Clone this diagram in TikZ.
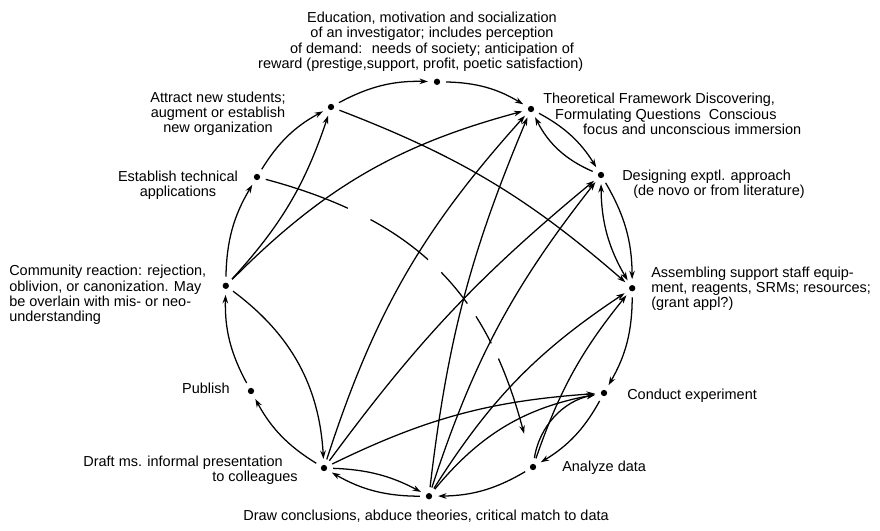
\documentclass[tikz,border=0pt]{standalone}
\usepackage{fontspec}
\setmainfont{Liberation Sans}
\usetikzlibrary{arrows.meta}

\begin{document}
\begin{tikzpicture}[
        >={Stealth[length=6pt,width=4pt]},
        dot/.style={circle,fill,inner sep=0pt,minimum size=4.5pt},
        lbl/.style={inner sep=0pt,font=\fontsize{10.3}{10.8}\selectfont},
        link/.style={->,line width=0.9pt,shorten >=4pt,shorten <=4pt}]
        \useasboundingbox (-10.725,-6.025) rectangle (11.275,7.225);
        % the twelve stations, clockwise from the top
        \node[dot](edu) at (0.2,5.18) {};
        \node[dot](the) at (2.55,4.5) {};
        \node[dot](des) at (4.3,2.85) {};
        \node[dot](asm) at (5.08,0.02) {};
        \node[dot](con) at (4.375,-2.6) {};
        \node[dot](ana) at (2.6,-4.45) {};
        \node[dot](drw) at (0,-5.18) {};
        \node[dot](dft) at (-2.625,-4.475) {};
        \node[dot](pub) at (-4.45,-2.55) {};
        \node[dot](com) at (-5.08,0.08) {};
        \node[dot](est) at (-4.3,2.8) {};
        \node[dot](att) at (-2.45,4.55) {};
        % texts
        \node[lbl,align=center](edutxt) at (0.075,6.18) {Education, motivation and socialization\\of an investigator; includes perception\\of demand:~ needs of society; anticipation of\\reward (prestige,support, profit, poetic satisfaction)\hspace*{16pt}};
        \node[lbl,align=left,anchor=west](thetxt) at (2.85,4.375) {Theoretical Framework Discovering,\\\hspace*{8.5pt}Formulating Questions~ Conscious\\\hspace*{28.4pt}focus and unconscious immersion};
        \node[lbl,align=left,anchor=west](destxt) at (4.825,2.61) {Designing exptl. approach\\\hspace*{7.8pt}(de novo or from literature)};
        \node[lbl,align=left,anchor=west](asmtxt) at (5.55,0.01) {Assembling support staff equip-\\ment, reagents, SRMs; resources;\\(grant appl?)};
        \node[lbl,anchor=west](contxt) at (4.95,-2.675) {Conduct experiment};
        \node[lbl,anchor=west](anatxt) at (3.325,-4.475) {Analyze data};
        \node[lbl](drwtxt) at (-0.075,-5.675) {Draw conclusions, abduce theories, critical match to data};
        \node[lbl,align=right,anchor=east](dfttxt) at (-3.275,-4.525) {Draft ms. informal presentation\hspace*{10.7pt}\\to colleagues};
        \node[lbl,anchor=east](pubtxt) at (-4.975,-2.475) {Publish};
        \node[lbl,align=left,anchor=west](comtxt) at (-10.5,-0.15) {Community reaction: rejection,\\oblivion, or canonization. May\\be overlain with mis- or neo-\\understanding};
        \node[lbl,align=center](esttxt) at (-6.275,2.59) {Establish technical\\applications};
        \node[lbl,align=center](atttxt) at (-5.275,4.375) {Attract new students;\\augment or establish\\new organization};
        % round the ring
        \draw[link](edu) to[bend left=15] (the);
        \draw[link](the) to[bend left=15] (des);
        \draw[link](des) to[bend left=15] (asm);
        \draw[link](asm) to[bend left=15] (con);
        \draw[link](con) to[bend left=15] (ana);
        \draw[link](ana) to[bend left=15] (drw);
        \draw[link](drw) to[bend left=15] (dft);
        \draw[link](dft) to[bend left=15] (pub);
        \draw[link](pub) to[bend left=15] (com);
        \draw[link](com) to[bend left=15] (est);
        \draw[link](est) to[bend left=15] (att);
        \draw[link](att) to[bend left=15] (edu);
        % going back
        \draw[link](des) to[bend left=20] (the);
        \draw[link,<->](des) to[bend right=15] (asm);
        \draw[link](ana) to[bend left=35] (con);
        \draw[link](dft) to[bend left=13] (drw);
        % across
        \draw[link](com) to[bend right=12] (att);
        \draw[link](com) to[bend left=15] (the);
        \draw[link](com) to[bend left=25] (dft);
        \draw[link](att) to[bend left=10] (asm);
        \draw[link,shorten >=22pt,dash pattern=on 62pt off 18pt on 50pt off 13pt on 29pt off 11pt on 22pt off 12pt on 60pt off 10pt](est) to[out=-15,in=105,looseness=1.1] (ana);
        \draw[link](dft) to[bend left=12] (the);
        \draw[link](dft) to[bend left=7] (des);
        \draw[link](dft) to[bend left=11] (con);
        \draw[link](drw) to[bend left=8] (the);
        \draw[link](drw) to[bend left=10] (des);
        \draw[link](drw) to[bend left=12] (asm);
        \draw[link](drw) to[bend left=20] (con);
        \draw[link](ana) to[bend left=10] (asm);
\end{tikzpicture}
\end{document}
